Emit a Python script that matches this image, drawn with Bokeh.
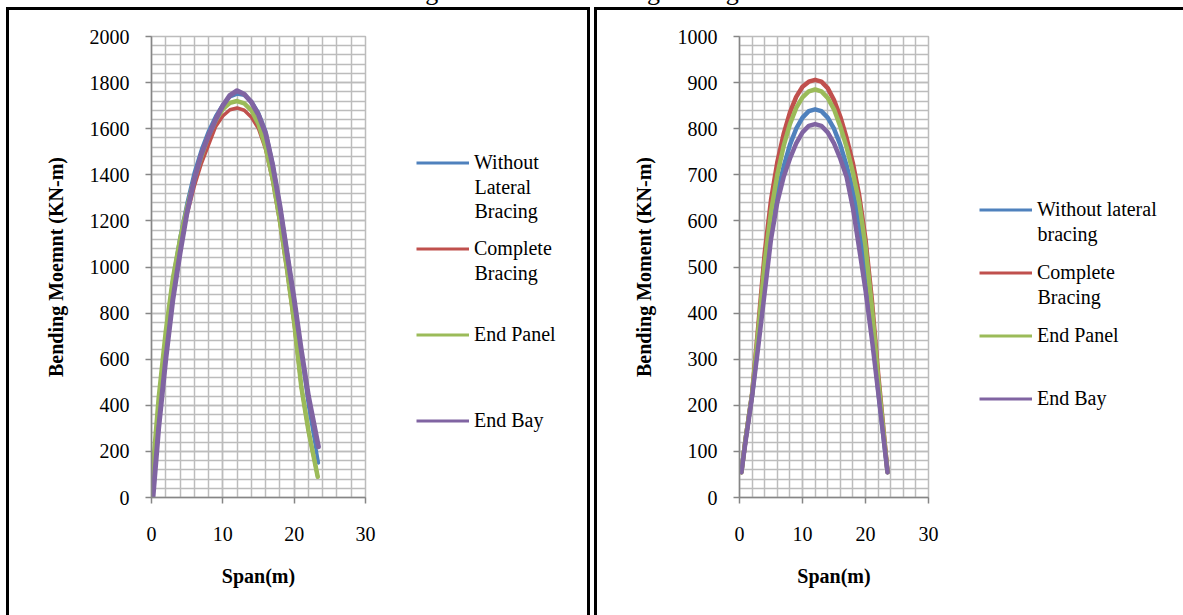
from bokeh.plotting import figure
from bokeh.models import (Legend, LegendItem, SingleIntervalTicker, Range1d, Div, Spacer,
                          Label)
from bokeh.layouts import row, column
from bokeh.embed import file_html
from bokeh.resources import INLINE

FONT = "Liberation Serif"

TITLE = "Figure 7 Lateral Bracing Configuration"

# ---------------- Left chart data ----------------
left_labels = ["Without", "Complete", "End Panel", "End Bay"]
left_label_more = [["Lateral", "Bracing"], ["Bracing"], [], []]
left_x_without = [0.3, 1, 2, 3, 4, 5, 6, 7, 8, 9, 10, 11, 12, 13, 14, 15, 16, 17, 18, 19, 20, 21, 22, 23.4]
left_without = [150, 400, 700, 950, 1130, 1280, 1410, 1510, 1590, 1655, 1705, 1738, 1750, 1745, 1720, 1670, 1590, 1450, 1270, 1070, 860, 630, 400, 150]
left_x_complete = [0.1, 1, 2, 3, 4, 5, 6, 7, 8, 9, 10, 11, 12, 13, 14, 15, 16, 17, 18, 19, 20, 21, 22, 23.3]
left_complete = [80, 400, 690, 920, 1090, 1230, 1350, 1450, 1530, 1610, 1655, 1682, 1690, 1680, 1650, 1600, 1510, 1370, 1190, 980, 750, 480, 290, 90]
left_x_panel = [0.1, 1, 2, 3, 4, 5, 6, 7, 8, 9, 10, 11, 12, 13, 14, 15, 16, 17, 18, 19, 20, 21, 22, 23.3]
left_panel = [90, 430, 720, 950, 1120, 1260, 1380, 1480, 1570, 1635, 1685, 1712, 1720, 1710, 1680, 1620, 1520, 1380, 1200, 990, 760, 480, 290, 90]
left_x_bay = [0.2, 1, 2, 3, 4, 5, 6, 7, 8, 9, 10, 11, 12, 13, 14, 15, 16, 17, 18, 19, 20, 21, 22, 23.4]
left_bay = [0, 300, 600, 860, 1060, 1240, 1380, 1490, 1570, 1640, 1700, 1745, 1765, 1750, 1715, 1660, 1580, 1440, 1265, 1060, 860, 640, 440, 220]

# ---------------- Right chart data ----------------
right_labels = ["Without lateral", "Complete", "End Panel", "End Bay"]
right_label_more = [["bracing"], ["Bracing"], [], []]
right_x = [0.3, 1, 2, 3, 4, 5, 6, 7, 8, 9, 10, 11, 12, 13, 14, 15, 16, 17, 18, 19, 20, 21, 22, 23.5]
right_without = [55, 130, 222, 345, 480, 585, 660, 717, 765, 800, 824, 838, 842, 838, 824, 800, 765, 720, 665, 595, 500, 380, 235, 55]
right_complete = [55, 130, 225, 375, 530, 645, 727, 788, 835, 869, 891, 902, 906, 902, 888, 862, 826, 780, 725, 655, 560, 430, 270, 55]
right_panel = [55, 130, 225, 365, 510, 620, 700, 762, 810, 845, 868, 881, 885, 881, 867, 842, 805, 760, 705, 640, 545, 415, 260, 55]
right_bay = [55, 125, 220, 330, 445, 560, 640, 695, 735, 768, 792, 806, 810, 806, 792, 768, 735, 695, 628, 540, 450, 345, 230, 55]

COLORS = ["#4F81BD", "#C0504D", "#9BBB59", "#8064A2"]
GRID = "#bcbcbc"
AXIS = "#868686"
H = 608
TOP = 26
FRAME_H = 461
BOTTOM = H - TOP - FRAME_H
BORDER = "3px solid black"
ROW_H = 23      # height of a one-line legend entry
LINE_STEP = 24  # distance between wrapped label lines


def make_chart(width, frame_w, xs_list, ys_list, ymax, ystep, ylabel, widths):
    p = figure(width=width, height=H, output_backend="svg", toolbar_location=None,
               x_range=Range1d(0, 30), y_range=Range1d(0, ymax),
               min_border_left=142, min_border_right=width - 142 - frame_w,
               min_border_top=TOP, min_border_bottom=BOTTOM,
               background_fill_color="white", border_fill_color="white",
               outline_line_color=GRID, outline_line_width=1.5)
    p.styles = {"border-left": BORDER, "border-top": BORDER}

    p.xaxis.ticker = SingleIntervalTicker(interval=10, num_minor_ticks=5)
    p.yaxis.ticker = SingleIntervalTicker(interval=ystep, num_minor_ticks=5)
    for g in (p.xgrid, p.ygrid):
        g.grid_line_color = GRID
        g.grid_line_width = 1.5
        g.minor_grid_line_color = GRID
        g.minor_grid_line_width = 1.5
    for ax in (p.xaxis, p.yaxis):
        ax.axis_line_color = AXIS
        ax.axis_line_width = 1.5
        ax.major_tick_line_color = AXIS
        ax.major_tick_line_width = 1.5
        ax.major_tick_out = 6
        ax.major_tick_in = 0
        ax.minor_tick_line_color = None
        ax.major_label_text_font = FONT
        ax.major_label_text_font_size = "20px"
        ax.major_label_text_color = "black"
        ax.axis_label_text_font = FONT
        ax.axis_label_text_font_size = "20px"
        ax.axis_label_text_font_style = "bold"
        ax.axis_label_text_color = "black"
    p.xaxis.axis_label = "Span(m)"
    p.yaxis.axis_label = ylabel
    p.yaxis.major_label_standoff = 16
    p.yaxis.axis_label_standoff = 20
    p.xaxis.major_label_standoff = 23
    p.xaxis.axis_label_standoff = 21

    for xs, ys, c, w in zip(xs_list, ys_list, COLORS, widths):
        p.line(xs, ys, line_color=c, line_width=w, line_join="round", line_cap="round")
    return p


def make_legend(width, labels, more, first_from_top, pitch, border_css):
    """first_from_top: px from frame top to the first sample line; pitch: px between entries."""
    lg = figure(width=width, height=H, output_backend="svg", toolbar_location=None,
                x_axis_type=None, y_axis_type=None,
                x_range=Range1d(0, width), y_range=Range1d(0, FRAME_H),
                min_border_left=0, min_border_right=0,
                min_border_top=TOP, min_border_bottom=BOTTOM,
                outline_line_color=None,
                background_fill_color="white", border_fill_color="white")
    lg.grid.visible = False
    lg.styles = border_css
    items = []
    nan = float("nan")
    for c, lab in zip(COLORS, labels):
        r = lg.line([nan], [nan], line_color=c, line_width=3)
        items.append(LegendItem(label=lab, renderers=[r]))
    n = len(labels)
    spacing = pitch - ROW_H
    total = n * ROW_H + (n - 1) * spacing
    top_edge = first_from_top - ROW_H / 2
    vy = FRAME_H - top_edge - total
    legend = Legend(items=items, location=(0, vy), orientation="vertical",
                    border_line_color=None, background_fill_alpha=0,
                    padding=0, margin=0, spacing=spacing,
                    glyph_width=53, glyph_height=ROW_H, label_standoff=5,
                    label_text_font=FONT, label_text_font_size="20px",
                    label_text_color="black")
    lg.add_layout(legend, "center")
    # wrapped continuation lines of the legend entries
    for i, extra in enumerate(more):
        for j, txt in enumerate(extra):
            y_from_top = first_from_top + i * pitch + (j + 1) * LINE_STEP
            lg.add_layout(Label(x=58, y=FRAME_H - y_from_top, text=txt,
                                text_font=FONT, text_font_size="20px", text_color="black",
                                text_baseline="middle", text_align="left"))
    return lg


c1 = make_chart(410, 214, [left_x_without, left_x_complete, left_x_panel, left_x_bay],
                [left_without, left_complete, left_panel, left_bay],
                2000, 200, "Bending Moemnt (KN-m)", [3.5, 3.5, 4.5, 5])
l1 = make_legend(174, left_labels, left_label_more, 126, 86,
                 {"border-top": BORDER, "border-right": BORDER})
c2 = make_chart(385, 189, [right_x, right_x, right_x, right_x],
                [right_without, right_complete, right_panel, right_bay],
                1000, 100, "Bending Moment (KN-m)", [4.5, 4.5, 4.5, 4.5])
l2 = make_legend(204, right_labels, right_label_more, 173, 63, {"border-top": BORDER})

title = Div(
    text=('<div style="position:absolute; left:0px; width:1216px; top:-21px; '
          'text-align:center; white-space:nowrap; font-family:\'Liberation Serif\'; '
          'font-size:26px; line-height:26px; color:black;">' + TITLE + '</div>'),
    width=1183, height=7, margin=0, styles={"overflow": "hidden", "position": "relative"})

panels = row(Spacer(width=6, height=H), c1, l1, Spacer(width=4, height=H), c2, l2, spacing=0)
layout = column(title, panels, spacing=0)
open("out.html", "w").write(file_html(layout, INLINE))
